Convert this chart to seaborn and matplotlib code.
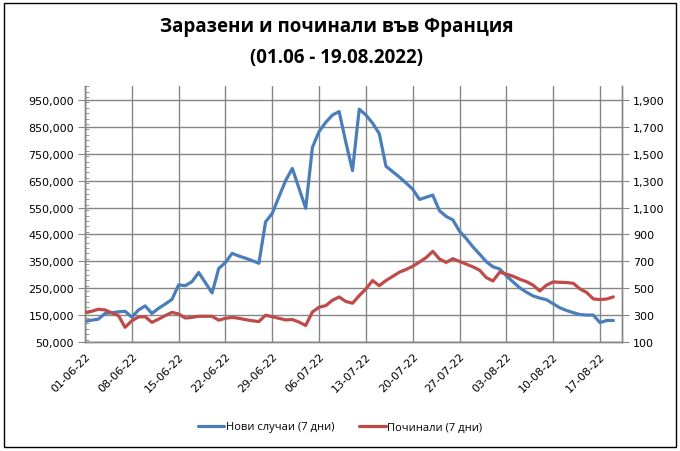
import matplotlib
matplotlib.use("Agg")
import matplotlib.pyplot as plt
import matplotlib.dates as mdates
from matplotlib.lines import Line2D
from matplotlib.patches import Rectangle
from matplotlib.ticker import FuncFormatter, MultipleLocator
import numpy as np
import pandas as pd
import seaborn as sns

# ---------------- data ----------------
start_date = "2022-06-01"
title_line1 = "Заразени и починали във Франция"
title_line2 = "(01.06 - 19.08.2022)"
label_cases = "Нови случаи (7 дни)"
label_deaths = "Починали (7 дни)"

cases = [128, 132, 136, 157, 160, 163, 165, 143, 170, 185,
         157, 176, 192, 209, 263, 260, 275, 309, 271, 233,
         324, 346, 380, 370, 362, 353, 343, 497, 528, 590,
         650, 695, 621, 547, 773, 832, 866, 893, 906, 792,
         687, 915, 893, 863, 824, 703, 683, 663, 641, 618,
         580, 588, 596, 538, 517, 504, 462, 435, 404, 377,
         349, 330, 322, 297, 274, 252, 236, 222, 214, 208,
         193, 178, 168, 160, 153, 151, 151, 123, 131, 131]  # thousands

deaths = [322, 330, 345, 340, 318, 298, 211, 260, 288, 290,
          248, 272, 298, 322, 310, 280, 285, 293, 293, 293,
          264, 278, 285, 278, 268, 260, 254, 301, 290, 278,
          266, 269, 250, 225, 325, 360, 372, 412, 436, 403,
          390, 446, 496, 558, 520, 558, 589, 620, 640, 664,
          695, 728, 775, 718, 693, 720, 700, 680, 660, 635,
          580, 555, 620, 606, 590, 568, 550, 524, 481, 524,
          548, 545, 543, 538, 496, 470, 422, 417, 421, 437]

dates = pd.date_range(start_date, periods=len(cases), freq="D")
df = pd.DataFrame({"date": dates,
                   "cases": np.array(cases) * 1000,
                   "deaths": deaths})

blue = "#4A7EBB"
red = "#BE4B48"
grid_c = "#868686"

sns.set_style("white")
plt.rcParams["font.family"] = ["DejaVu Sans"]
plt.rcParams["text.color"] = "black"
plt.rcParams["xtick.color"] = "black"
plt.rcParams["ytick.color"] = "black"

fig = plt.figure(figsize=(6.8, 4.52), dpi=100)
W, H = 680, 452
left_px, right_px, top_px, bot_px = 85, 622, 87.2, 343.3
ax = fig.add_axes([left_px / W, 1 - bot_px / H,
                   (right_px - left_px) / W, (bot_px - top_px) / H])
ax2 = ax.twinx()

sns.lineplot(data=df, x="date", y="cases", ax=ax, color=blue,
             linewidth=2.3, legend=False, zorder=3)
sns.lineplot(data=df, x="date", y="deaths", ax=ax2, color=red,
             linewidth=2.3, legend=False, zorder=3)

# axes limits
ax.set_xlim(pd.Timestamp("2022-06-01"), pd.Timestamp("2022-08-20 07:00"))
ax.set_ylim(50000, 1000000)
ax2.set_ylim(100, 2000)

ax.set_yticks(np.arange(50000, 1000000, 100000))
ax2.set_yticks(np.arange(100, 2000, 200))
ax.yaxis.set_minor_locator(MultipleLocator(20000))
ax.yaxis.set_major_formatter(FuncFormatter(lambda v, p: f"{v:,.0f}"))
ax2.yaxis.set_major_formatter(FuncFormatter(lambda v, p: f"{v:,.0f}"))

xt = pd.date_range("2022-06-01", "2022-08-17", freq="7D")
ax.set_xticks(xt)
ax.xaxis.set_major_formatter(mdates.DateFormatter("%d-%m-%y"))
for lab in ax.get_xticklabels():
    lab.set_rotation(45)
    lab.set_ha("right")
    lab.set_rotation_mode("anchor")

ax.set_xlabel("")
ax.set_ylabel("")
ax2.set_ylabel("")

ax.grid(True, which="major", color=grid_c, linewidth=1.0)
ax.set_axisbelow(True)
ax2.grid(False)

for a in (ax, ax2):
    a.spines["top"].set_visible(False)
    for s in ("left", "right", "bottom"):
        a.spines[s].set_color(grid_c)
        a.spines[s].set_linewidth(1.0)

ax.tick_params(axis="y", which="major", direction="out", length=5,
               color=grid_c, labelsize=8, pad=3, labelcolor="black")
ax.tick_params(axis="y", which="minor", direction="in", length=3,
               color=grid_c, left=True)
ax.tick_params(axis="x", which="major", direction="out", length=4,
               color=grid_c, labelsize=8, pad=2, labelcolor="black")
ax2.tick_params(axis="y", which="major", direction="out", length=5,
                color=grid_c, labelsize=8, pad=3, labelcolor="black")

# title
tfam = ["Open Sans", "DejaVu Sans"]
fig.text(0.495, 1 - 27 / H, title_line1, ha="center", va="center",
         fontsize=13.5, fontweight="bold", family=tfam, color="black")
fig.text(0.495, 1 - 58 / H, title_line2, ha="center", va="center",
         fontsize=13.5, fontweight="bold", family=tfam, color="black")

# legend
handles = [Line2D([], [], color=blue, linewidth=2.3),
           Line2D([], [], color=red, linewidth=2.3)]
leg = fig.legend(handles, [label_cases, label_deaths], loc="center",
                 bbox_to_anchor=(0.5, 1 - 428 / H), ncol=2, frameon=False,
                 prop={"family": ["Open Sans", "DejaVu Sans"], "size": 8},
                 handlelength=2.4, handletextpad=0.15, columnspacing=2.2)
for t in leg.get_texts():
    t.set_color("black")

# outer border
fig.patches.append(Rectangle((4 / W, 1 - 448 / H), 672 / W, 444 / H,
                             transform=fig.transFigure, fill=False,
                             edgecolor="black", linewidth=1.0))

fig.savefig("out.png", dpi=100, facecolor="white")
